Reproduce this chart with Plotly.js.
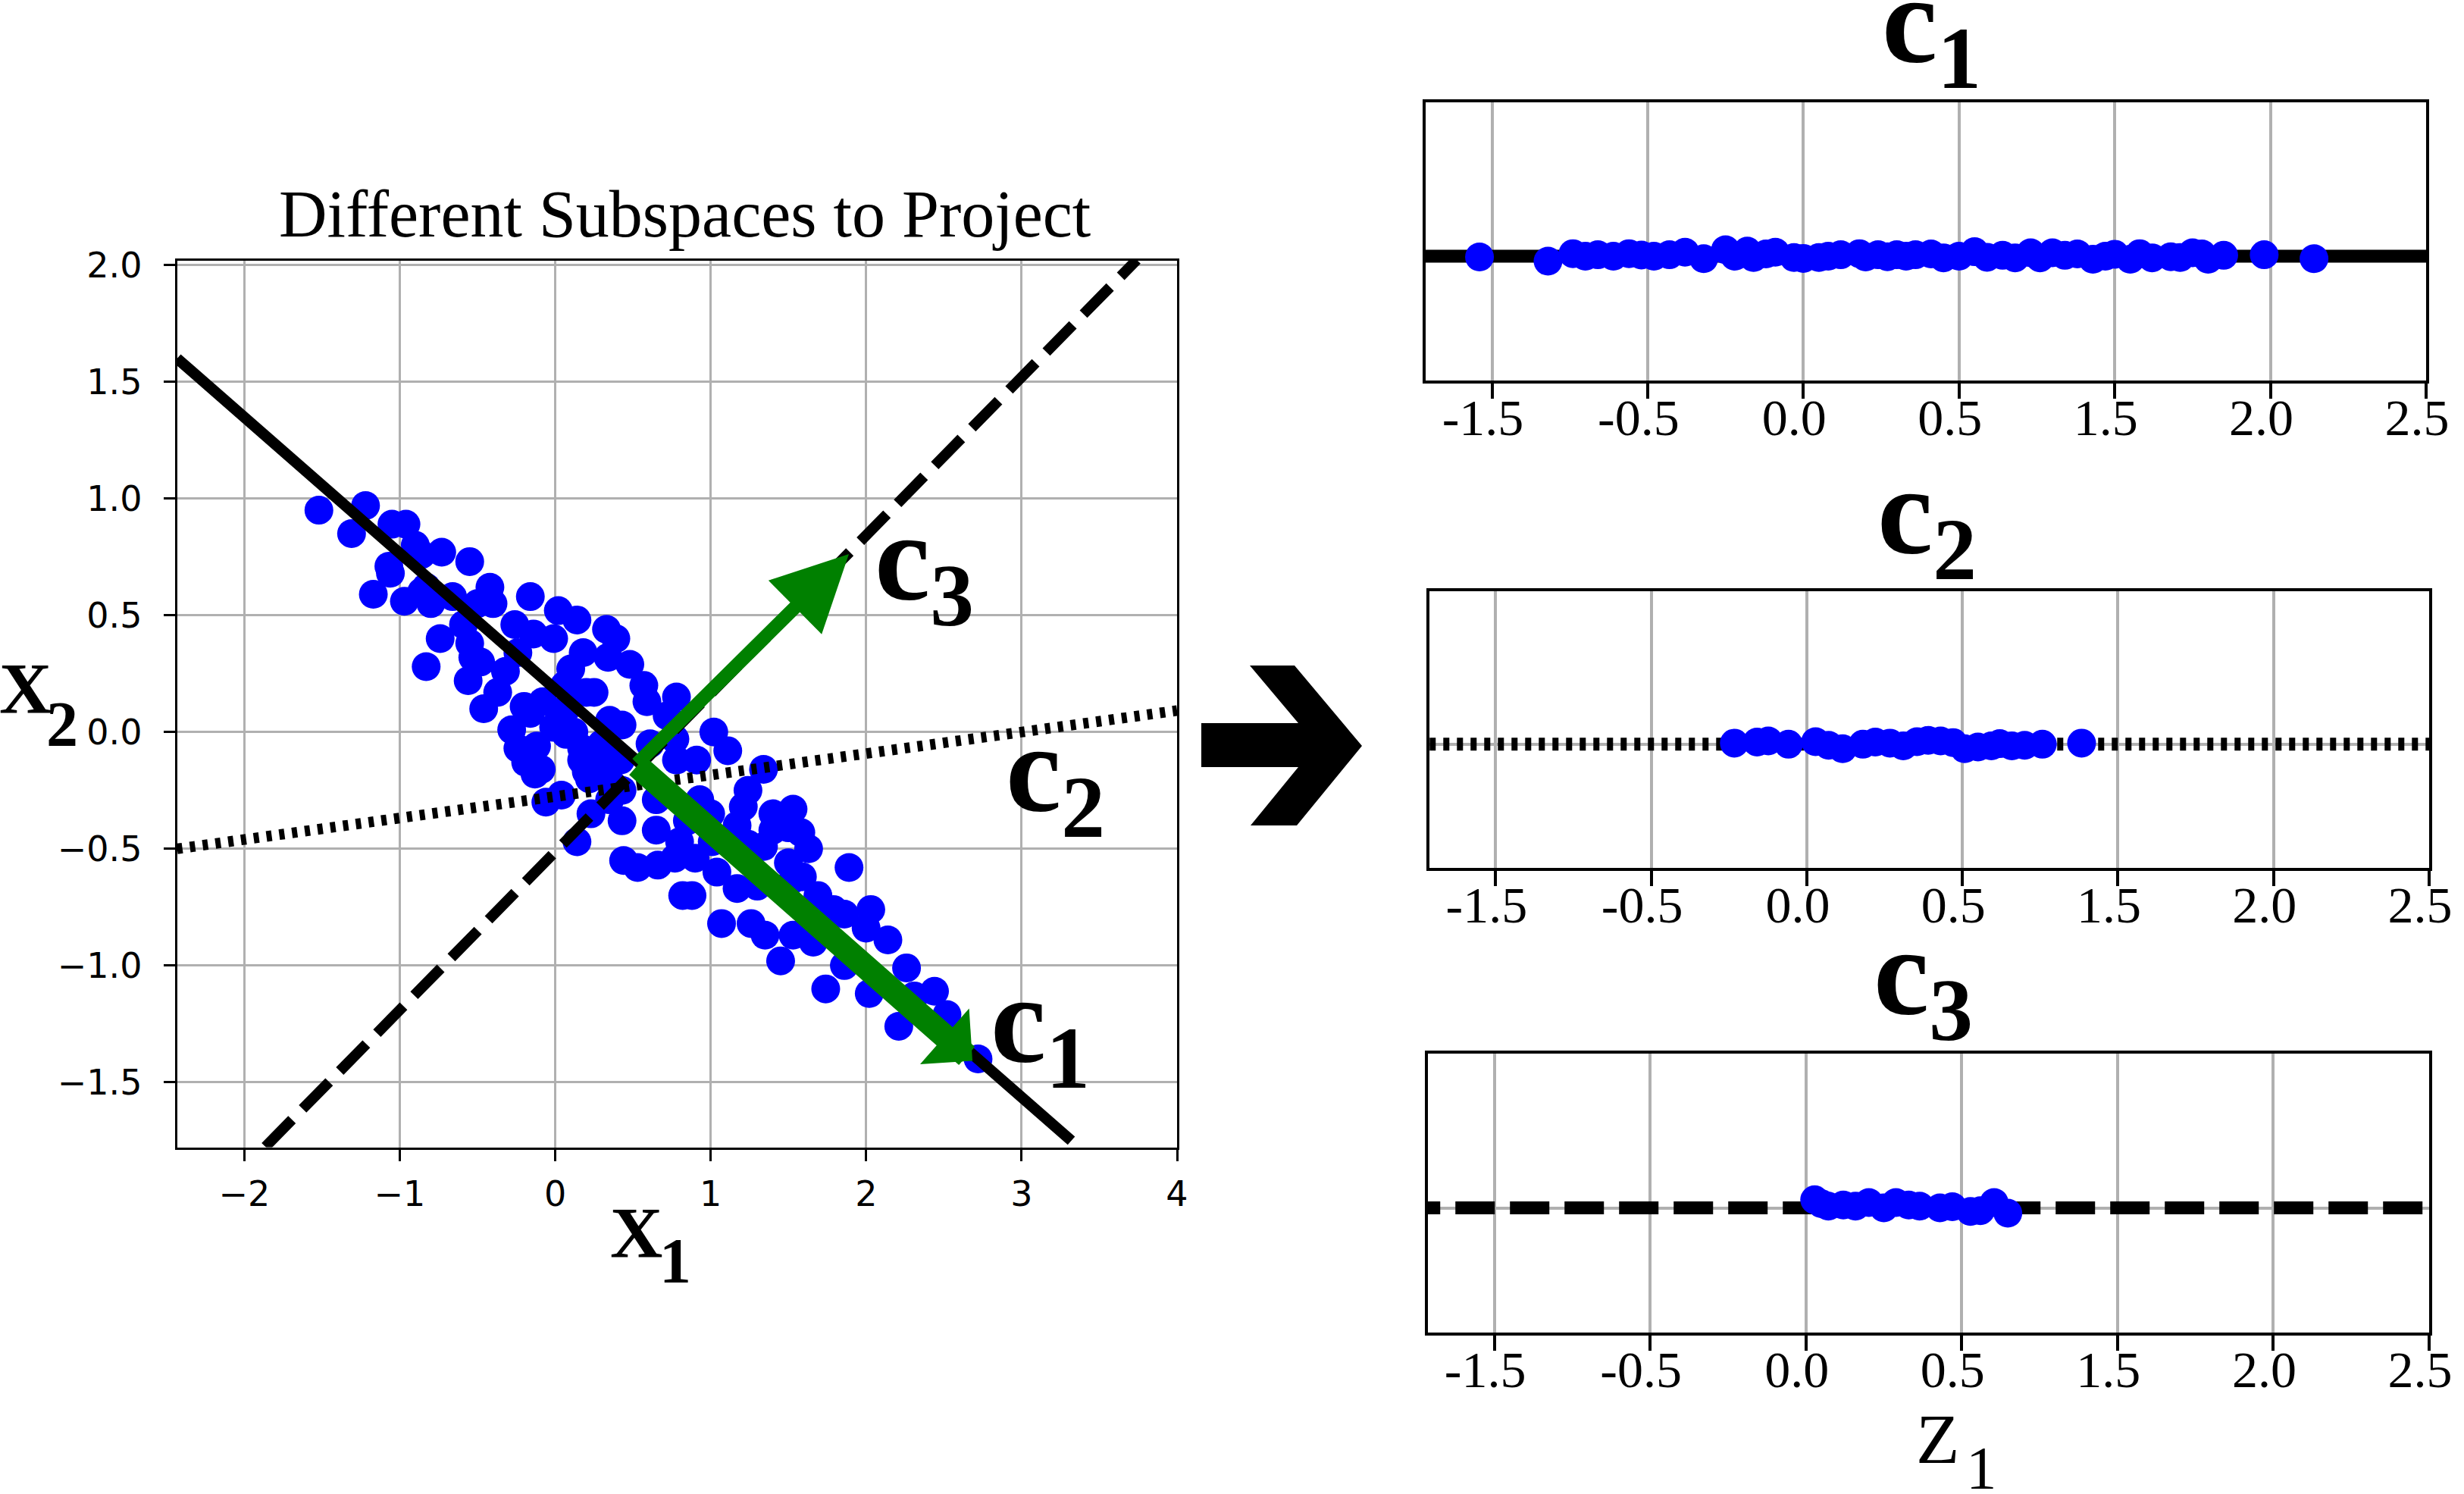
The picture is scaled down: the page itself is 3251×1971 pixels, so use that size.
<!DOCTYPE html>
<html>
<head>
<meta charset="utf-8">
<script src="https://cdn.plot.ly/plotly-3.0.1.min.js"></script>
<style>
html, body { margin: 0; padding: 0; background: #ffffff; }
#chart { width: 3251px; height: 1971px; }
</style>
</head>
<body>
<div id="chart"></div>
<script>
// ---------------- data ----------------
const pointsX1 = [
  -1.52,-1.22,-1.31,-1.05,-0.96,-0.90,-0.73,-0.55,-1.07,-1.06,-1.17,-0.97,-0.83,-0.80,-0.66,-0.42,-0.40,-0.16,-0.50,-0.26,
   0.02, 0.14,-0.01, 0.18,-0.74,-0.59,-0.55,-0.53,-0.83,-0.32,-0.56,-0.24,-0.37,-0.46,-0.20,-0.08, 0.06, 0.10, 0.20,-0.28,
  -0.24,-0.12,-0.01,-0.19,-0.09, 0.07, 0.17, 0.04,-0.16,-0.86,-0.86,-0.48,-0.14,
   0.33, 0.39, 0.48, 0.57, 0.59, 0.78, 0.72, 0.25, 0.43, 0.61, 0.77, 1.02, 1.11, 0.91, 0.78, 1.34, 1.24, 1.21, 0.93, 1.00,
   0.65, 0.65, 0.43, 0.23, 0.14, 0.35, 0.20, 0.85, 1.17, 1.24, 0.80, 0.44, 0.53, 0.66, 0.77, 0.90, 1.04, 0.82, 0.88, 1.17,
   1.40,-0.06, 0.04, 0.22, 0.36,-0.13, 0.34, 0.07, 0.17, 0.30, 0.35, 0.42, 0.30, 0.12, 0.43,
   1.53,
   1.58, 1.63, 1.50, 1.50, 1.59, 1.69, 1.89, 2.03, 1.86, 2.00, 2.14, 2.26, 2.44, 2.31, 2.02, 1.74, 1.86, 1.45, 1.66, 1.53,
   1.35, 1.26, 1.07, 2.21, 2.52, 1.53, 1.79, 1.43, 1.40, 1.30, 1.34, 1.01,
   2.72
];
const pointsX2 = [
   0.95, 0.97, 0.85, 0.89, 0.89, 0.80, 0.77, 0.73, 0.71, 0.68, 0.59, 0.56, 0.62, 0.55, 0.58, 0.62, 0.55, 0.58, 0.55, 0.46,
   0.52, 0.48, 0.40, 0.34, 0.40, 0.46, 0.38, 0.32, 0.28, 0.26, 0.22, 0.34, 0.17, 0.10, 0.11, 0.13, 0.20, 0.27, 0.17, 0.01,
  -0.07,-0.06, 0.02,-0.13,-0.16,-0.01,-0.12, 0.06, 0.08, 0.76, 0.60, 0.30, 0.42,
   0.44, 0.40, 0.29, 0.20, 0.13, 0.15, 0.07, 0.17, 0.03,-0.05,-0.03, 0.00,-0.08,-0.12,-0.12,-0.16,-0.25,-0.32,-0.29,-0.35,
  -0.29,-0.42,-0.38,-0.35,-0.47,-0.29,-0.17,-0.38,-0.40,-0.48,-0.47,-0.55,-0.58,-0.57,-0.54,-0.54,-0.60,-0.70,-0.70,-0.67,
  -0.35,-0.30,-0.27,-0.20,-0.22,-0.18, 0.32, 0.10,-0.07,-0.05, 0.05,-0.12,-0.12, 0.00,-0.25,
  -0.33,
  -0.43,-0.50,-0.41,-0.56,-0.62,-0.70,-0.58,-0.76,-0.78,-0.84,-0.89,-1.01,-1.11,-1.13,-1.12,-1.10,-1.00,-0.98,-0.90,-0.87,
  -0.87,-0.82,-0.82,-1.26,-1.21,-0.63,-0.76,-0.36,-0.42,-0.66,-0.49,-0.47,
  -1.40
];

// mean point and arrow tips (left panel, data units)
const meanPoint  = [0.52, -0.14];
const c1ArrowEnd = [2.684, -1.408];
const c3ArrowEnd = [1.889, 0.762];

// subspace lines (left panel)
const lineC1X = [-2.432, 3.32];  const lineC1Y = [1.60, -1.75];
const lineC2X = [-2.432, 4.0];   const lineC2Y = [-0.50, 0.092];
const lineC3X = [-1.864, 3.741]; const lineC3Y = [-1.776, 2.022];

// left panel ticks
const leftXTicks = [-2, -1, 0, 1, 2, 3, 4];
const leftXTickText = ['\u22122', '\u22121', '0', '1', '2', '3', '4'];
const leftYTicks = [-1.5, -1.0, -0.5, 0.0, 0.5, 1.0, 1.5, 2.0];
const leftYTickText = ['\u22121.5', '\u22121.0', '\u22120.5', '0.0', '0.5', '1.0', '1.5', '2.0'];

// right panels ticks (labels as printed in the reference)
const zTicks = [-1.0, -0.5, 0.0, 0.5, 1.0, 1.5, 2.0];
const zTickText = ['-1.5', '-0.5', '0.0', '0.5', '1.5', '2.0', '2.5'];

// projected lines in the right panels
const projLineX = [-1.3, 2.1];
const projLineY = [0, 0];

// projections (z1) and small vertical offsets of the dots
const c1Z = [-1.04,-0.82,-0.74,-0.70,-0.66,-0.61,-0.56,-0.52,-0.48,-0.43,-0.38,-0.32,-0.25,-0.22,-0.18,-0.16,-0.12,-0.09,-0.03,0.00,
             0.05,0.08,0.12,0.18,0.20,0.24,0.27,0.30,0.33,0.36,0.41,0.45,0.50,0.55,0.59,0.64,0.68,0.73,0.76,0.80,
             0.84,0.88,0.93,0.97,1.00,1.05,1.08,1.12,1.18,1.21,1.25,1.28,1.30,1.35,1.48,1.64];
const c1Off = [-0.0003,-0.0018,0.0009,0.0,0.0005,0.0,0.0009,0.0004,0.0,0.0005,0.0014,-0.0009,0.0023,0.0,0.0018,-0.0005,0.0008,0.0014,-0.0005,-0.0008,
               -0.0005,0.0,0.0005,0.0009,-0.0003,0.0005,-0.0002,0.0005,0.0,0.0005,0.0008,-0.0006,0.0,0.0016,-0.0004,0.0003,-0.0006,0.0012,-0.0006,0.0012,
               0.0003,0.0008,-0.0011,0.0,0.0007,-0.0011,0.0009,-0.0006,-0.0002,-0.0005,0.0012,0.0008,-0.0011,0.0003,0.0005,-0.0009];
const c2Z = [-0.233,-0.16,-0.124,-0.059,0.028,0.07,0.115,0.180,0.22,0.267,0.31,0.354,0.39,0.430,0.47,0.507,0.55,0.593,0.62,0.659,0.70,0.757,0.883];
const c2Off = [0.0004,0.0008,0.0012,0.0,0.0009,-0.0004,-0.0016,0.0,0.0008,0.0004,-0.0006,0.0009,0.0014,0.0012,0.0006,-0.0016,-0.0010,-0.0006,0.0002,-0.0006,-0.0004,0.0,0.0004];
const c3Z = [0.028,0.05,0.072,0.12,0.159,0.202,0.25,0.289,0.33,0.365,0.430,0.47,0.528,0.56,0.604,0.648];
const c3Off = [0.0029,0.0015,0.0006,0.0010,0.0006,0.0019,0.0,0.0019,0.0010,0.0006,0.0,0.0004,-0.0013,-0.0010,0.0019,-0.0019];

// ---------------- layout helpers ----------------
const W = 3251, H = 1971;
const px = v => v / W;
const py = v => 1 - v / H;

const BLUE = '#0000ff';
const GRID = '#b0b0b0';
const MARK = 38;

const traces = [
  // left panel
  {x: pointsX1, y: pointsX2, type: 'scatter', mode: 'markers', xaxis: 'x', yaxis: 'y',
   marker: {size: MARK, color: BLUE, line: {width: 0}}, hoverinfo: 'skip'},
  {x: lineC1X, y: lineC1Y, type: 'scatter', mode: 'lines', xaxis: 'x', yaxis: 'y',
   line: {color: '#000000', width: 14.5}, hoverinfo: 'skip'},
  {x: lineC2X, y: lineC2Y, type: 'scatter', mode: 'lines', xaxis: 'x', yaxis: 'y',
   line: {color: '#000000', width: 14, dash: '7px,10px'}, hoverinfo: 'skip'},
  {x: lineC3X, y: lineC3Y, type: 'scatter', mode: 'lines', xaxis: 'x', yaxis: 'y',
   line: {color: '#000000', width: 14, dash: '50px,20px'}, hoverinfo: 'skip'},
  // right panel c1
  {x: projLineX, y: projLineY, type: 'scatter', mode: 'lines', xaxis: 'x2', yaxis: 'y2',
   line: {color: '#000000', width: 17}, hoverinfo: 'skip'},
  {x: c1Z, y: c1Off, type: 'scatter', mode: 'markers', xaxis: 'x2', yaxis: 'y2',
   marker: {size: MARK, color: BLUE}, hoverinfo: 'skip'},
  // right panel c2
  {x: projLineX, y: projLineY, type: 'scatter', mode: 'lines', xaxis: 'x3', yaxis: 'y3',
   line: {color: '#000000', width: 17, dash: '8px,10px'}, hoverinfo: 'skip'},
  {x: c2Z, y: c2Off, type: 'scatter', mode: 'markers', xaxis: 'x3', yaxis: 'y3',
   marker: {size: MARK, color: BLUE}, hoverinfo: 'skip'},
  // right panel c3
  {x: projLineX, y: projLineY, type: 'scatter', mode: 'lines', xaxis: 'x4', yaxis: 'y4',
   line: {color: '#000000', width: 17, dash: '52px,20px'}, hoverinfo: 'skip'},
  {x: c3Z, y: c3Off, type: 'scatter', mode: 'markers', xaxis: 'x4', yaxis: 'y4',
   marker: {size: MARK, color: BLUE}, hoverinfo: 'skip'}
];

const leftTickFont = {family: 'DejaVu Sans', size: 46, color: '#000000'};
const rightTickFont = {family: 'Liberation Serif', size: 68, color: '#000000'};

function leftAxisX() {
  return {domain: [px(233.7), px(1553)], range: [-2.432, 4.0], anchor: 'y',
    tickmode: 'array', tickvals: leftXTicks, ticktext: leftXTickText,
    ticks: 'outside', ticklen: 15, tickwidth: 3, tickcolor: '#000000',
    showgrid: true, gridcolor: GRID, gridwidth: 3, zeroline: false,
    showline: true, linecolor: '#000000', linewidth: 3, mirror: true,
    tickfont: leftTickFont, ticklabelstandoff: 4, fixedrange: true};
}
function leftAxisY() {
  return {domain: [1 - 1513.5 / H, 1 - 343.5 / H], range: [-1.778, 2.02], anchor: 'x',
    tickmode: 'array', tickvals: leftYTicks, ticktext: leftYTickText,
    ticks: 'outside', ticklen: 15, tickwidth: 3, tickcolor: '#000000',
    showgrid: true, gridcolor: GRID, gridwidth: 3, zeroline: false,
    showline: true, linecolor: '#000000', linewidth: 3, mirror: true,
    tickfont: leftTickFont, ticklabelstandoff: 19, fixedrange: true};
}
function rightAxisX(left, right, anchor) {
  return {domain: [px(left), px(right)], range: [-1.213, 2.0], anchor: anchor,
    tickmode: 'array', tickvals: zTicks, ticktext: zTickText,
    ticks: 'outside', ticklen: 20, tickwidth: 4, tickcolor: '#000000',
    showgrid: true, gridcolor: GRID, gridwidth: 4, zeroline: false,
    showline: true, linecolor: '#000000', linewidth: 4, mirror: true,
    tickfont: rightTickFont, ticklabelstandoff: -34, ticklabelshift: -12, fixedrange: true};
}
function rightAxisY(top, bottom, anchor) {
  return {domain: [1 - bottom / H, 1 - top / H], range: [-0.0447, 0.0553], anchor: anchor,
    tickmode: 'array', tickvals: [0], showticklabels: false, ticks: '',
    showgrid: true, gridcolor: GRID, gridwidth: 4, zeroline: false,
    showline: true, linecolor: '#000000', linewidth: 4, mirror: true, fixedrange: true};
}

const serif = 'Liberation Serif';
function label(text, xPx, yMidPx, size, anchor) {
  return {text: text, xref: 'paper', yref: 'paper', x: px(xPx), y: py(yMidPx),
    xanchor: anchor || 'left', yanchor: 'middle', showarrow: false,
    font: {family: serif, size: size, color: '#000000'}};
}

const bigArrowPx = [[1585,954],[1713,954],[1649,878],[1708,878],[1797,984],[1711,1089],[1650,1089],[1713,1012],[1585,1012]];
const bigArrowPath = 'M' + bigArrowPx.map(p => px(p[0]).toFixed(5) + ',' + py(p[1]).toFixed(5)).join('L') + 'Z';

const annotations = [
  // green principal-direction arrows
  {x: c1ArrowEnd[0], y: c1ArrowEnd[1], ax: meanPoint[0], ay: meanPoint[1],
   xref: 'x', yref: 'y', axref: 'x', ayref: 'y', text: '', showarrow: true,
   arrowhead: 1, arrowsize: 0.51, arrowwidth: 32, arrowcolor: '#008000'},
  {x: c3ArrowEnd[0], y: c3ArrowEnd[1], ax: meanPoint[0], ay: meanPoint[1],
   xref: 'x', yref: 'y', axref: 'x', ayref: 'y', text: '', showarrow: true,
   arrowhead: 2, arrowsize: 1.11, arrowwidth: 18, arrowcolor: '#008000'},
  // titles and labels
  label('Different Subspaces to Project', 903, 282.3, 88, 'center'),
  label('<b>c<sub>3</sub></b>', 1152, 746.3, 165),
  label('<b>c<sub>2</sub></b>', 1325, 1025.3, 165),
  label('<b>c<sub>1</sub></b>', 1305, 1356.3, 165),
  label('<b>c<sub>1</sub></b>', 2481, 37.3, 165),
  label('<b>c<sub>2</sub></b>', 2475, 685.3, 165),
  label('<b>c<sub>3</sub></b>', 2470, 1293.3, 165),
  label('<b>X</b>', 840, 1626.6, 96, 'center'),
  label('<b>1</b>', 891, 1663.6, 84, 'center'),
  label('<b>X</b>', 33, 908.6, 96, 'center'),
  label('<b>2</b>', 82, 955.7, 84, 'center'),
  label('Z', 2556, 1898.3, 94, 'center'),
  label('1', 2614, 1936.7, 81, 'center')
];

const layout = {
  width: W, height: H,
  margin: {l: 0, r: 0, t: 0, b: 0, pad: 0},
  paper_bgcolor: '#ffffff', plot_bgcolor: '#ffffff',
  showlegend: false,
  xaxis: leftAxisX(), yaxis: leftAxisY(),
  xaxis2: rightAxisX(1881, 3201, 'y2'), yaxis2: rightAxisY(135, 502, 'x2'),
  xaxis3: rightAxisX(1886, 3205, 'y3'), yaxis3: rightAxisY(780, 1145, 'x3'),
  xaxis4: rightAxisX(1884, 3205, 'y4'), yaxis4: rightAxisY(1390, 1758, 'x4'),
  annotations: annotations,
  shapes: [{type: 'path', xref: 'paper', yref: 'paper', path: bigArrowPath,
            fillcolor: '#000000', line: {width: 0}}]
};

Plotly.newPlot('chart', traces, layout, {displayModeBar: false, staticPlot: true});
</script>
</body>
</html>
